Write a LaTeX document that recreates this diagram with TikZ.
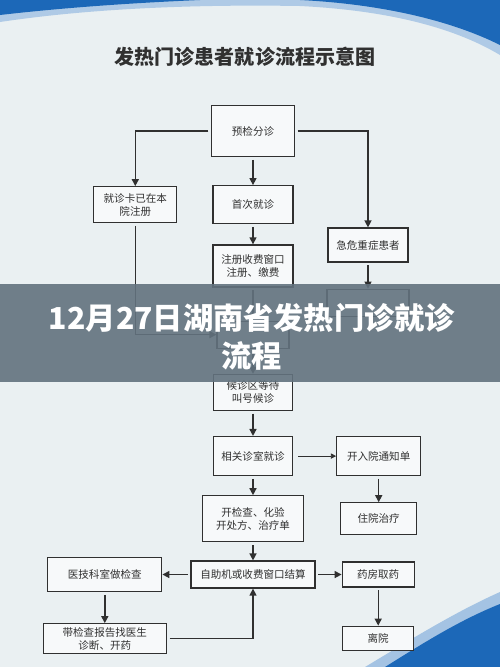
\documentclass[tikz,border=0pt]{standalone}
\usepackage{fontspec}
\setmainfont{Noto Sans CJK SC}
\usetikzlibrary{positioning,arrows.meta,calc}
\definecolor{bgcol}{RGB}{234,240,242}
\definecolor{swoosh}{RGB}{28,104,184}
\definecolor{bannercol}{RGB}{98,114,126}
\definecolor{linecol}{RGB}{48,48,48}

\begin{document}
\begin{tikzpicture}[
				x=0.02cm, y=-0.02cm,
				node distance=0.5cm,
				box/.style={rectangle, draw=linecol, line width=0.7pt, fill=bgcol!40!white, text=linecol, align=center, inner sep=1pt, font=\fontsize{6}{7.4}\selectfont},
				arr/.style={-{Triangle[length=4pt,width=4pt]}, line width=0.8pt, draw=linecol, shorten <=1.5pt},
				thinarr/.style={-{Triangle[length=3pt,width=3pt]}, line width=0.5pt, draw=linecol}
				]
				% background
				\fill[bgcol] (0,0) rectangle (500,667);
				\useasboundingbox (0,0) rectangle (500,667);
				\fill[swoosh!35] (0,0) -- (0,22) .. controls (80,10) and (180,4) .. (300,6) .. controls (380,10) and (450,25) .. (500,55) -- (500,0) -- cycle;
				\fill[swoosh] (0,0) -- (0,15) .. controls (60,8) and (130,3) .. (200,0) -- cycle;
				\fill[swoosh] (300,0) .. controls (380,4) and (450,20) .. (500,45) -- (500,0) -- cycle;
				\fill[swoosh!40] (365,667) .. controls (410,640) and (455,612) .. (500,592) -- (500,667) -- cycle;
				\fill[swoosh] (385,667) .. controls (425,642) and (460,620) .. (500,604) -- (500,667) -- cycle;
				
				\node[font=\fontsize{11.4}{13}\selectfont\bfseries, text=linecol] (title) at (245,57) {发热门诊患者就诊流程示意图};
				
				% boxes
				\node[box, minimum width=1.66cm, minimum height=1.02cm] (pre) at (253,131) {预检分诊};
				\node[box, minimum width=1.6cm, minimum height=0.76cm, below=0.56cm of pre] (first) {首次就诊};
				\node[box, minimum width=1.66cm, minimum height=0.72cm, left=0.7cm of first] (card) {就诊卡已在本\\院注册};
				\node[box, minimum width=1.6cm, minimum height=0.84cm, below=0.4cm of first] (reg) {注册收费窗口\\注册、缴费};
				\node[box, minimum width=1.6cm, minimum height=0.68cm] (emerg) at (368,245) {急危重症患者};
				% boxes under the banner (text hidden)
				\node[box, minimum width=1.64cm, minimum height=0.54cm, below=0.52cm of emerg] (rescue) {};
				\node[box, minimum width=1.44cm, minimum height=0.54cm, below=0.66cm of reg] (triage) {};
				\node[box, minimum width=1.58cm, minimum height=0.72cm, below=0.5cm of triage] (wait) {候诊区等待\\叫号候诊};
				\node[box, minimum width=1.58cm, minimum height=0.78cm, below=0.5cm of wait] (clinic) {相关诊室就诊};
				\node[box, minimum width=1.68cm, minimum height=0.78cm, right=0.86cm of clinic] (notice) {开入院通知单};
				\node[box, minimum width=1.52cm, minimum height=0.64cm, below=0.52cm of notice] (ward) {住院治疗};
				\node[box, minimum width=2.02cm, minimum height=0.92cm, below=0.38cm of clinic] (exam) {开检查、化验\\开处方、治疗单};
				\node[box, minimum width=2.48cm, minimum height=0.54cm, below=0.36cm of exam] (pay) {自助机或收费窗口结算};
				\node[box, minimum width=2.28cm, minimum height=0.68cm, left=0.56cm of pay] (tech) {医技科室做检查};
				\node[box, minimum width=1.44cm, minimum height=0.5cm, right=0.52cm of pay] (pharm) {药房取药};
				\node[box, minimum width=2.46cm, minimum height=0.6cm, below=0.62cm of tech] (report) {带检查报告找医生\\诊断、开药};
				\node[box, minimum width=1.42cm, minimum height=0.48cm, below=0.76cm of pharm] (leave) {离院};
				
				% arrows
				\draw[arr] (pre.west) -| (card.north);
				\draw[arr] (pre.east) -| (emerg.north);
				\draw[arr] (pre) -- (first);
				\draw[arr] (first) -- (reg);
				\draw[arr] (reg) -- (triage);
				\draw[arr] (card.south) |- (triage.west);
				\draw[arr] (emerg) -- (rescue);
				\draw[arr] (triage) -- (wait);
				\draw[arr] (wait) -- (clinic);
				\draw[thinarr] ([xshift=3pt]clinic.east) -- (notice);
				\draw[arr] (notice) -- (ward);
				\draw[arr] (clinic) -- (exam);
				\draw[arr] (exam) -- (pay);
				\draw[arr] (pay) -- (tech);
				\draw[arr] (pay) -- (pharm);
				\draw[arr] (tech) -- (report);
				\draw[arr] (pharm) -- (leave);
				\draw[arr] (report.east) -| (pay.south);
				
				% banner
				\fill[bannercol, opacity=0.9] (0,284) rectangle (500,382);
				\node[text=white, align=center, font=\fontsize{17.2}{21.5}\selectfont\bfseries] (banner) at (252,337) {12月27日湖南省发热门诊就诊\\流程};
			\end{tikzpicture}
\end{document}
